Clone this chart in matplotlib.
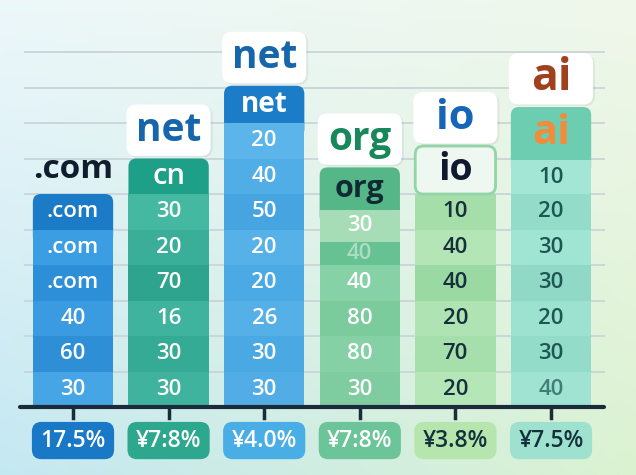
import numpy as np
import matplotlib
matplotlib.use("Agg")
import matplotlib.pyplot as plt
from matplotlib.patches import FancyBboxPatch

plt.rcParams['font.family'] = ['Open Sans', 'DejaVu Sans']

# data
top_labels = ['.com', 'net', 'net', 'org', 'io', 'ai']
headers = ['.com', 'cn', 'net', 'org', 'io', 'ai']
cells = [
    ['.com', '.com', '40', '60', '30'],
    ['30', '20', '70', '16', '30', '30'],
    ['20', '40', '50', '20', '20', '26', '30', '30'],
    ['30', '40', '40', '80', '80', '30'],
    ['10', '40', '40', '20', '70', '20'],
    ['10', '20', '30', '30', '20', '30', '40'],
]
# segment heights (top to bottom), one unit = one grid step
row_heights = [
    [1, 1, 1, 1, 1],
    [1, 1, 1, 1, 1, 1],
    [1, 1, 1, 1, 1, 1, 1, 1],
    [0.9, 0.65, 1, 1, 1, 1],
    [1, 1, 1, 1, 1, 1],
    [0.95, 1, 1, 1, 1, 1, 1],
]
header_heights = [1.0, 1.0, 1.05, 1.2, 1.35, 1.5]
bottom_labels = ['17.5%', '¥7:8%', '¥4.0%', '¥7:8%', '¥3.8%', '¥7.5%']

# styles
row_colors = [
    ['#3b9de2', '#2d8fd8', '#3a9be0', '#2e8fd7', '#45a5e5'],
    ['#45b8a2', '#3aae98', '#2ea38d', '#40b39e', '#35aa94', '#3fb39d'],
    ['#5bb5ea', '#50ade6', '#46a5e1', '#56b1e8', '#4ba9e4', '#55b0e8', '#4aa8e3', '#52ade6'],
    ['#a7ddb6', '#67c293', '#87d1a6', '#7bcb9d', '#86d0a5', '#7ecc9f'],
    ['#a6dea9', '#b3e5b6', '#9bd9a3', '#b0e3b3', '#a6dfac', '#b5e6b7'],
    ['#a4e6d6', '#92dcc9', '#a0e4d4', '#8fd9c6', '#9de2d1', '#93dcca', '#a0e3d3'],
]
row_text = ['white', 'white', 'white', 'white', '#15303a', '#1d5752']
header_colors = ['#1b7bc6', '#1d9f88', '#1b7cc8', '#55b787', '#eef8f1', '#6dcdb1']
header_text = ['white', 'white', 'white', '#0f2a33', '#0f1a2e', '#f28b3a']
header_sizes = [16, 21, 20, 22, 27, 30]
header_weights = ['semibold', 'semibold', 'bold', 'bold', 'bold', 'bold']
top_colors = ['#0f1d2c', '#1766ac', '#1766ac', '#17885a', '#1565b8', '#a0401c']
top_sizes = [24, 28, 28, 28, 30, 32]
bottom_colors = ['#1a79c6', '#2ea78f', '#4aaee6', '#6cc499', '#b6e6ae', '#9fe1cf']
bottom_text = ['white', 'white', 'white', 'white', '#14303a', '#14303a']

W, H = 636, 475
px_x, px_y = 95.6, 35.5          # pixels per data unit
x0_px, y0_px = 73, 407           # pixel of first bar centre / baseline
asp = px_x / px_y
bw = 0.84

fig = plt.figure(figsize=(W / 100, H / 100), dpi=100)
ax = fig.add_axes([0, 0, 1, 1])
xlim = (-x0_px / px_x, (W - x0_px) / px_x)
ylim = (-(H - y0_px) / px_y, y0_px / px_y)
ax.set_xlim(xlim)
ax.set_ylim(ylim)
ax.axis('off')

# background gradient
gx = np.linspace(0, 1, 200)
gy = np.linspace(0, 1, 150)[:, None, None]
left_b, right_b = np.array([0.77, 0.91, 0.95]), np.array([0.86, 0.95, 0.82])
left_t, right_t = np.array([0.93, 0.97, 0.98]), np.array([0.94, 0.97, 0.92])
bot = left_b + (right_b - left_b) * gx[:, None]
top = left_t + (right_t - left_t) * gx[:, None]
bg = bot[None] * (1 - gy) + top[None] * gy
ax.imshow(bg, extent=[*xlim, *ylim], origin='lower', aspect='auto', zorder=0)


def rbox(xc, y, w, h, r=0.085, **kw):
    p = FancyBboxPatch((xc - w / 2, y), w, h,
                       boxstyle=f"round,pad=0,rounding_size={r}",
                       mutation_aspect=asp, **kw)
    ax.add_patch(p)
    return p


# grid lines
ax.hlines(np.arange(1, 11), -0.51, 5.56, color='#c8d2d6', lw=1.2, zorder=1)

for i in range(6):
    hs = row_heights[i][::-1]
    cs = row_colors[i][::-1]
    labs = cells[i][::-1]
    bottoms = np.concatenate([[0], np.cumsum(hs)[:-1]])
    rows_top = sum(hs)
    top = rows_top + header_heights[i]

    # header block with rounded top
    if i == 4:
        rbox(i, rows_top, bw, header_heights[i], fc=header_colors[i],
             ec='#93d4a8', lw=2, zorder=4)
    else:
        rbox(i, rows_top - 0.4, bw, header_heights[i] + 0.4,
             fc=header_colors[i], ec='none', zorder=2)
    ax.text(i, rows_top + header_heights[i] / 2, headers[i], ha='center',
            va='center', fontsize=header_sizes[i], fontweight=header_weights[i],
            color=header_text[i], zorder=5)

    ax.bar([i] * len(hs), hs, bottom=bottoms, width=bw, color=cs,
           edgecolor='none', zorder=3)
    for b, h, lab in zip(bottoms, hs, labs):
        alpha = 0.45 if (i == 3 and h < 0.7) else 1
        col = '#3f7f78' if (i == 5 and b == 0) else row_text[i]
        ax.text(i, b + h / 2, lab, ha='center', va='center', fontsize=16,
                fontweight='semibold', color=col, alpha=alpha, zorder=5)

    # label above bar
    if i == 0:
        ax.text(i, top + 0.7, top_labels[i], ha='center', va='center',
                fontsize=top_sizes[i], fontweight='bold', color=top_colors[i],
                zorder=5)
    else:
        rbox(i + 0.02, top + 0.03, bw + 0.04, 1.45, r=0.1, fc='black',
             alpha=0.06, ec='none', zorder=3)
        rbox(i, top + 0.07, bw + 0.04, 1.45, r=0.1, fc='white',
             ec='none', zorder=4)
        ax.text(i, top + 0.07 + 0.72, top_labels[i], ha='center',
                va='center', fontsize=top_sizes[i], fontweight='bold',
                color=top_colors[i], zorder=5)

    # tick and bottom label
    ax.plot([i, i], [0, -0.3], color='#1c2b3a', lw=2.5, zorder=6)
    rbox(i, -1.47, bw + 0.02, 1.05, r=0.1, fc=bottom_colors[i], ec='none',
         zorder=4)
    ax.text(i, -0.95, bottom_labels[i], ha='center', va='center',
            fontsize=16.5, fontweight='semibold', color=bottom_text[i],
            zorder=5)

# axis line
ax.plot([-0.555, 5.55], [0, 0], color='#1c2b3a', lw=3,
        solid_capstyle='round', zorder=6)

fig.savefig('out.png', dpi=100)
